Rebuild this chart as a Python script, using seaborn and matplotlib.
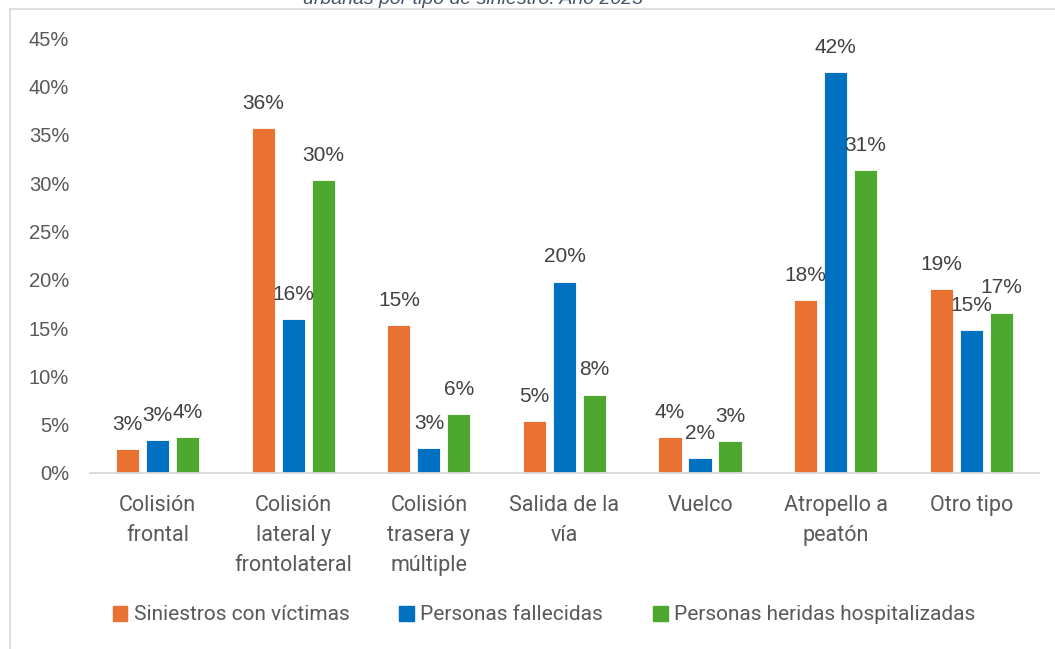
import pandas as pd
import seaborn as sns
import matplotlib.pyplot as plt
from matplotlib.lines import Line2D
from matplotlib.ticker import FuncFormatter

# Datos (porcentaje sobre el total de cada serie)
categorias = ['Colisión\nfrontal', 'Colisión\nlateral y\nfrontolateral', 'Colisión\ntrasera y\nmúltiple',
              'Salida de la\nvía', 'Vuelco', 'Atropello a\npeatón', 'Otro tipo']
series = ['Siniestros con víctimas', 'Personas fallecidas', 'Personas heridas hospitalizadas']

siniestros = [2.5, 35.7, 15.3, 5.4, 3.7, 17.9, 19.0]
fallecidas = [3.4, 15.9, 2.6, 19.8, 1.5, 41.5, 14.8]
heridas = [3.7, 30.3, 6.1, 8.1, 3.3, 31.3, 16.6]

etiq_siniestros = ['3%', '36%', '15%', '5%', '4%', '18%', '19%']
etiq_fallecidas = ['3%', '16%', '3%', '20%', '2%', '42%', '15%']
etiq_heridas = ['4%', '30%', '6%', '8%', '3%', '31%', '17%']

colores = {'Siniestros con víctimas': '#E97132',
           'Personas fallecidas': '#0070C0',
           'Personas heridas hospitalizadas': '#4EA72E'}

#########################################

filas = []
for serie, valores in zip(series, [siniestros, fallecidas, heridas]):
    for cat, v in zip(categorias, valores):
        filas.append({'cat': cat, 'serie': serie, 'valor': v})
df = pd.DataFrame(filas)

sns.set_style('white')
plt.rcParams['font.family'] = ['Liberation Sans', 'DejaVu Sans']

fig = plt.figure(figsize=(10.55, 6.49), dpi=100)
ax = fig.add_axes([0.0853, 0.2712, 0.8995, 0.6702])

sns.barplot(data=df, x='cat', y='valor', hue='serie', palette=colores, order=categorias,
            hue_order=series, width=0.664, gap=0.23, saturation=1, ax=ax, legend=False,
            edgecolor='white', linewidth=0.6)

for cont, etiquetas in zip(ax.containers, [etiq_siniestros, etiq_fallecidas, etiq_heridas]):
    ax.bar_label(cont, labels=etiquetas, padding=11, fontsize=15, color='#404040')

ax.set_ylim(0, 45)
ax.set_yticks(range(0, 46, 5))
ax.yaxis.set_major_formatter(FuncFormatter(lambda v, p: f'{v:.0f}%'))
ax.set_xlim(-0.5, len(categorias) - 0.5)
ax.set_xlabel('')
ax.set_ylabel('')
ax.tick_params(axis='y', length=0, pad=15, labelsize=14.5, labelcolor='#595959')
ax.tick_params(axis='x', length=0, pad=16, labelsize=15.5, labelcolor='#595959')
for lab in ax.get_xticklabels():
    lab.set_family(['Roboto', 'DejaVu Sans'])
    lab.set_linespacing(1.55)

sns.despine(ax=ax, left=True)
ax.spines['bottom'].set_color('#D9D9D9')
ax.spines['bottom'].set_linewidth(1.3)

# Leyenda inferior
handles = [plt.Rectangle((0, 0), 1, 1, color=colores[s]) for s in series]
fig.legend(handles, series, loc='center', bbox_to_anchor=(544 / 1055, 1 - 615 / 649), ncol=3,
           frameon=False, handlelength=0.7, handleheight=0.7, handletextpad=0.3,
           columnspacing=2.4, prop={'family': ['Roboto', 'DejaVu Sans'], 'size': 15},
           labelcolor='#595959')

# Titulo cortado en la parte superior y borde del cuadro
fig.text(473 / 1055, 1 - 4 / 649, 'urbanas por tipo de siniestro. Año 2023', ha='center',
         va='baseline', fontsize=14, style='italic', color='#44546A')
fig.add_artist(Line2D([10 / 1055, 1], [1 - 9 / 649, 1 - 9 / 649], color='#D9D9D9', lw=1.2))
fig.add_artist(Line2D([10 / 1055, 10 / 1055], [0, 1 - 9 / 649], color='#D9D9D9', lw=1.2))

fig.savefig('out.png', dpi=100)
